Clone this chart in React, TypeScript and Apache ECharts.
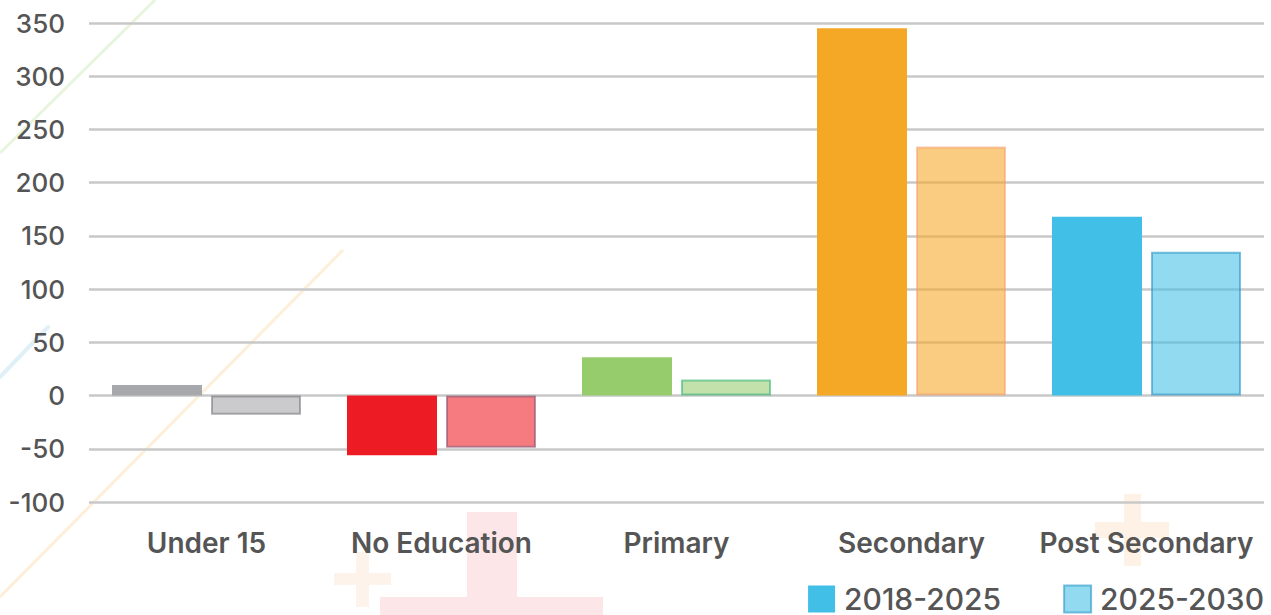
import React, { useEffect, useRef } from "react";
import * as echarts from "echarts";

const categories = ["Under 15", "No Education", "Primary", "Secondary", "Post Secondary"];
const seriesNames = ["2018-2025", "2025-2030"];
const values2018 = [10, -56, 36, 345, 168];
const values2025 = [-18, -49, 15, 234, 135];
const colors2018 = ["#A7A8AB", "#ED1C24", "#97CC6D", "#F5A726", "#41BFE6"];
const colors2025 = [
  "rgba(160,161,164,0.55)",
  "rgba(237,28,36,0.58)",
  "rgba(151,204,109,0.58)",
  "rgba(245,167,38,0.58)",
  "rgba(65,191,230,0.58)",
];
const borders2025 = [
  "rgba(120,121,124,0.6)",
  "rgba(140,80,110,0.6)",
  "rgba(40,175,110,0.55)",
  "rgba(245,150,100,0.5)",
  "rgba(40,150,200,0.6)",
];
const yMin = -100;
const yMax = 350;
const yInterval = 50;

export default function App() {
  const ref = useRef<HTMLDivElement>(null);
  useEffect(() => {
    if (!ref.current) return;
    const chart = echarts.init(ref.current, null, { renderer: "svg" });
    const font = "Inter, 'Noto Sans', sans-serif";
    chart.setOption({
      animation: false,
      backgroundColor: "#ffffff",
      graphic: [
        { type: "line", z: -10, shape: { x1: 155, y1: 0, x2: 0, y2: 153 }, style: { stroke: "#E6F5DC", lineWidth: 3 } },
        { type: "line", z: -10, shape: { x1: 343, y1: 250, x2: 0, y2: 597 }, style: { stroke: "#FDEFD9", lineWidth: 3 } },
        { type: "line", z: -10, shape: { x1: 48, y1: 327, x2: 0, y2: 377 }, style: { stroke: "#E0F0F7", lineWidth: 4, lineCap: "round" } },
        { type: "rect", z: -10, shape: { x: 356, y: 552, width: 13, height: 55 }, style: { fill: "#FEF3EA" } },
        { type: "rect", z: -10, shape: { x: 334, y: 573, width: 57, height: 12 }, style: { fill: "#FEF3EA" } },
        { type: "rect", z: -10, shape: { x: 467, y: 512, width: 50, height: 110 }, style: { fill: "#FCE6E8" } },
        { type: "rect", z: -10, shape: { x: 380, y: 597, width: 223, height: 25 }, style: { fill: "#FCE6E8" } },
        { type: "rect", z: -10, shape: { x: 1124, y: 494, width: 17, height: 72 }, style: { fill: "#FEF1E6" } },
        { type: "rect", z: -10, shape: { x: 1095, y: 522, width: 74, height: 16 }, style: { fill: "#FEF1E6" } },
      ],
      grid: { left: 89, right: 7, top: 23, bottom: 113, containLabel: false },
      legend: {
        data: seriesNames,
        icon: "rect",
        right: 7,
        top: 584,
        padding: 0,
        itemWidth: 27,
        itemHeight: 27,
        itemGap: 62,
        textStyle: { fontFamily: font, fontSize: 30, lineHeight: 27, fontWeight: 500, color: "#555555", padding: [0, 0, 0, 4] },
      },
      xAxis: {
        type: "category",
        data: categories,
        axisLine: { show: false },
        axisTick: { show: false },
        axisLabel: { interval: 0, fontFamily: font, fontSize: 28, fontWeight: 600, color: "#555555", margin: 27 },
      },
      yAxis: {
        type: "value",
        min: yMin,
        max: yMax,
        interval: yInterval,
        axisLine: { show: false },
        axisTick: { show: false },
        axisLabel: { fontFamily: font, fontSize: 26, fontWeight: 500, color: "#555555", margin: 24 },
        splitLine: { lineStyle: { color: "#C8C8C8", width: 2.5 } },
      },
      series: [
        {
          name: seriesNames[0],
          type: "bar",
          barWidth: 90,
          barGap: "10%",
          itemStyle: { color: "#41BFE6" },
          data: values2018.map((v, i) => ({ value: v, itemStyle: { color: colors2018[i] } })),
        },
        {
          name: seriesNames[1],
          type: "bar",
          barWidth: 90,
          itemStyle: { color: "rgba(65,191,230,0.58)", borderColor: "rgba(40,150,200,0.6)", borderWidth: 2 },
          data: values2025.map((v, i) => ({
            value: v,
            itemStyle: { color: colors2025[i], borderColor: borders2025[i], borderWidth: 2 },
          })),
        },
      ],
    });
    return () => chart.dispose();
  }, []);
  return <div ref={ref} style={{ width: 1271, height: 615, position: "absolute", left: 0, top: 0 }} />;
}
